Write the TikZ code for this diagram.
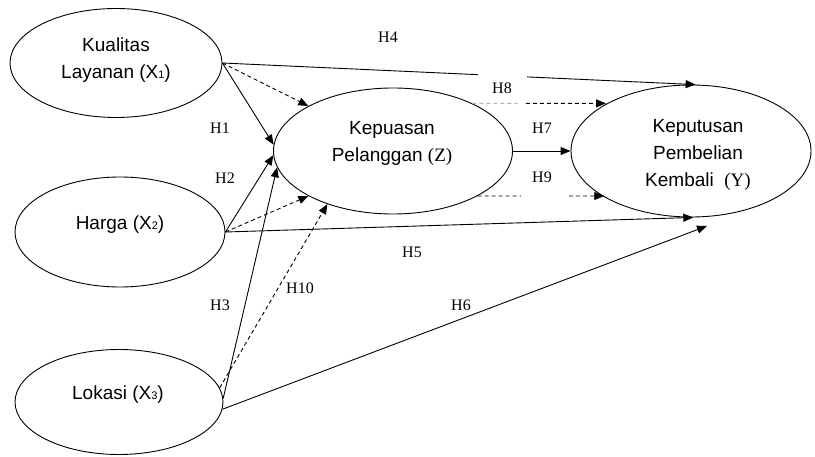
\documentclass[tikz,border=0pt]{standalone}
\usepackage{fontspec}
\setmainfont{Liberation Serif}
\setsansfont{Liberation Sans}
\usetikzlibrary{shapes.geometric,arrows.meta,calc}
% small index digit set on the baseline, as in X1, X2, X3
\newcommand\smallidx[1]{{\fontsize{11}{11}\selectfont #1}}
\begin{document}
\begin{tikzpicture}[x=1pt,y=-1pt,
  construct/.style={ellipse, draw, line width=0.9pt, inner sep=0pt},
  ctext/.style={font=\sffamily\fontsize{19}{27}\selectfont, inner sep=0pt},
  link/.style={line width=0.9pt, -{Triangle[length=10pt,width=8pt]}},
  plainline/.style={line width=0.9pt},
  mediated/.style={link, dash pattern=on 4pt off 3pt},
  mediatedline/.style={plainline, dash pattern=on 4pt off 3pt},
  hyp/.style={font=\rmfamily\fontsize{16}{16}\selectfont, inner sep=0pt}
]
\useasboundingbox (0,0) rectangle (815,457);

% latent constructs
\node[construct, minimum width=212pt, minimum height=109pt] (x1) at (116,63) {};
\node[construct, minimum width=210pt, minimum height=110pt] (x2) at (120,232) {};
\node[construct, minimum width=208pt, minimum height=105pt] (x3) at (119,402) {};
\node[construct, minimum width=239pt, minimum height=126pt] (z) at (393,151) {};
\node[construct, minimum width=240pt, minimum height=132pt] (y) at (691,151) {};

% construct names
\node[ctext, align=center] (x1text) at (116,60) {Kualitas\\Layanan (X\smallidx{1})};
\node[ctext] (x2text) at (120,225) {Harga (X\smallidx{2})};
\node[ctext] (x3text) at (118,395) {Lokasi (X\smallidx{3})};
\node[ctext, align=center] (ztext) at (392,143.6) {Kepuasan\\Pelanggan {\rmfamily(Z)}};
\node[ctext, align=center] (ytext) at (698,155) {Keputusan\\Pembelian\\Kembali\ \ {\rmfamily(Y)}};

% free end of H6
\coordinate (h6end) at (707,226);

% direct effects on Z
\draw[link] (x1.east) -- (z.177);
\draw[link] (x2.east) -- (z.182);
\draw[link] (x3.2) -- (z.188);

% direct effects on Y
\draw[plainline] (x1.east) -- ($(x1.east)!0.54!(y.86)$);
\draw[link] ($(x1.east)!0.644!(y.86)$) -- (y.86);
\draw[link] (x2.east) -- (y.272);
\draw[link] (x3.-4) -- (h6end);
\draw[link] (z.east) -- (y.west);

% mediated paths through Z
\draw[mediated] (x1.east) -- (z.152);
\draw[mediated] (x2.east) -- (z.208);
\draw[mediated] (x3.8) -- (z.219);
\coordinate (h8a) at (z.31);
\coordinate (h8b) at (h8a -| y.151);
\draw[mediatedline, gray!60] (h8a) -- ($(h8a)!0.34!(h8b)$);
\draw[mediated] ($(h8a)!0.40!(h8b)$) -- (h8b);
\coordinate (h9a) at (z.332);
\coordinate (h9b) at (h9a -| y.208);
\draw[mediatedline] (h9a) -- ($(h9a)!0.343!(h9b)$);
\draw[mediated] ($(h9a)!0.722!(h9b)$) -- (h9b);

% hypothesis labels
\node[hyp] (lh1) at (220,128) {H1};
\node[hyp] (lh2) at (225,178) {H2};
\node[hyp] (lh3) at (220,305) {H3};
\node[hyp] (lh4) at (388,37) {H4};
\node[hyp] (lh5) at (412,252) {H5};
\node[hyp] (lh6) at (461,305) {H6};
\node[hyp] (lh7) at (542,128) {H7};
\node[hyp] (lh8) at (502,88) {H8};
\node[hyp] (lh9) at (542,177) {H9};
\node[hyp] (lh10) at (300,288) {H10};
\end{tikzpicture}
\end{document}
